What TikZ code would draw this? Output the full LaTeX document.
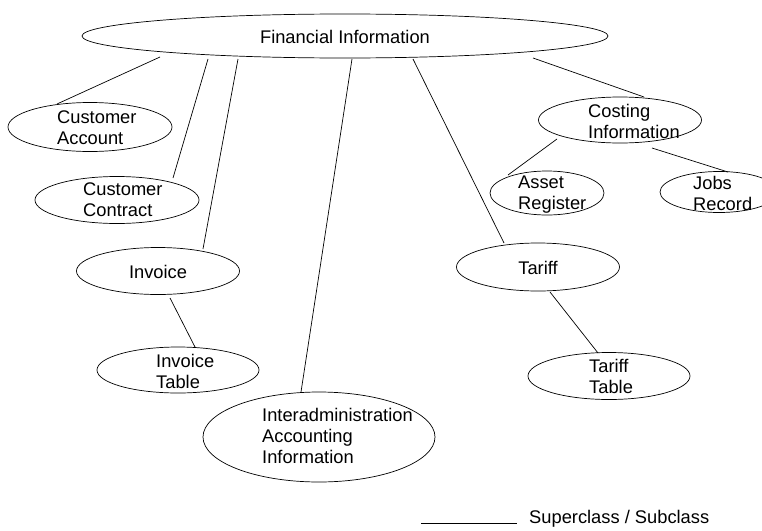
\documentclass[tikz,border=0pt]{standalone}
\usepackage{fontspec}
\setmainfont{Liberation Sans}
\usetikzlibrary{shapes.geometric}
\begin{document}
\begin{tikzpicture}[x=1pt,y=-1pt,
  cls/.style={draw,ellipse,inner sep=0pt,line width=0.7pt},
  lbl/.style={anchor=base west,inner sep=0pt,font=\fontsize{18.3}{21}\selectfont},
  clbl/.style={inner sep=0pt,font=\fontsize{18.3}{21}\selectfont},
  link/.style={line width=0.7pt}]
\useasboundingbox (0,0) rectangle (762,530);
% ellipses
\node[cls,minimum width=526pt,minimum height=44pt] (fi) at (345,36) {};
\node[cls,minimum width=164pt,minimum height=49pt] (ca) at (90,127) {};
\node[cls,minimum width=164pt,minimum height=47pt] (cc) at (117,200) {};
\node[cls,minimum width=163pt,minimum height=46pt] (ci) at (620,120) {};
\node[cls,minimum width=114pt,minimum height=44pt] (ar) at (547,193) {};
\node[cls,minimum width=118pt,minimum height=41pt] (jr) at (719,192) {};
\node[cls,minimum width=163pt,minimum height=47pt] (inv) at (158,271) {};
\node[cls,minimum width=162pt,minimum height=46pt] (it) at (178,370) {};
\node[cls,minimum width=232pt,minimum height=90pt] (ia) at (319,437) {};
\node[cls,minimum width=163pt,minimum height=48pt] (ta) at (538,267) {};
\node[cls,minimum width=162pt,minimum height=47pt] (tt) at (609,376) {};
% texts
\node[clbl] (fit) at (345,37) {Financial Information};
\node[lbl] (cat1) at (57,123) {Customer};
\node[lbl] (cat2) at (57,144) {Account};
\node[lbl] (cct1) at (83,195) {Customer};
\node[lbl] (cct2) at (83,216) {Contract};
\node[lbl] (cit1) at (588,117) {Costing};
\node[lbl] (cit2) at (588,138) {Information};
\node[lbl] (art1) at (518,188) {Asset};
\node[lbl] (art2) at (518,209) {Register};
\node[lbl] (jrt1) at (693,189) {Jobs};
\node[lbl] (jrt2) at (693,210) {Record};
\node[clbl] (invt) at (158,272) {Invoice};
\node[lbl] (itt1) at (156,367) {Invoice};
\node[lbl] (itt2) at (156,388) {Table};
\node[lbl] (iat1) at (262,421) {Interadministration};
\node[lbl] (iat2) at (262,442) {Accounting};
\node[lbl] (iat3) at (262,463) {Information};
\node[clbl] (tat) at (538,268) {Tariff};
\node[lbl] (ttt1) at (589,372) {Tariff};
\node[lbl] (ttt2) at (589,393) {Table};
% connector ends
\coordinate (f1) at (160,57);
\coordinate (f2) at (208,59);
\coordinate (f3) at (238,59);
\coordinate (f4) at (352,59);
\coordinate (f5) at (413,59);
\coordinate (f6) at (533,58);
\coordinate (e1) at (57,104);
\coordinate (e2) at (173,178);
\coordinate (e3) at (203,249);
\coordinate (e4) at (301,392);
\coordinate (e5) at (504,243);
\coordinate (e6) at (644,97);
\coordinate (c1) at (557,139);
\coordinate (c2) at (508,175);
\coordinate (c3) at (652,148);
\coordinate (c4) at (728,172);
\coordinate (i1) at (170,298);
\coordinate (i2) at (195,347);
\coordinate (t1) at (550,292);
\coordinate (t2) at (598,353);
\draw[link] (f1) -- (e1);
\draw[link] (f2) -- (e2);
\draw[link] (f3) -- (e3);
\draw[link] (f4) -- (e4);
\draw[link] (f5) -- (e5);
\draw[link] (f6) -- (e6);
\draw[link] (c1) -- (c2);
\draw[link] (c3) -- (c4);
\draw[link] (i1) -- (i2);
\draw[link] (t1) -- (t2);
% legend
\coordinate (lg1) at (421,523);
\coordinate (lg2) at (517,523);
\draw[link] (lg1) -- (lg2);
\node[anchor=west,inner sep=0pt,font=\fontsize{18.3}{21}\selectfont] (lgt) at (529,519) {Superclass / Subclass};
\end{tikzpicture}
\end{document}
